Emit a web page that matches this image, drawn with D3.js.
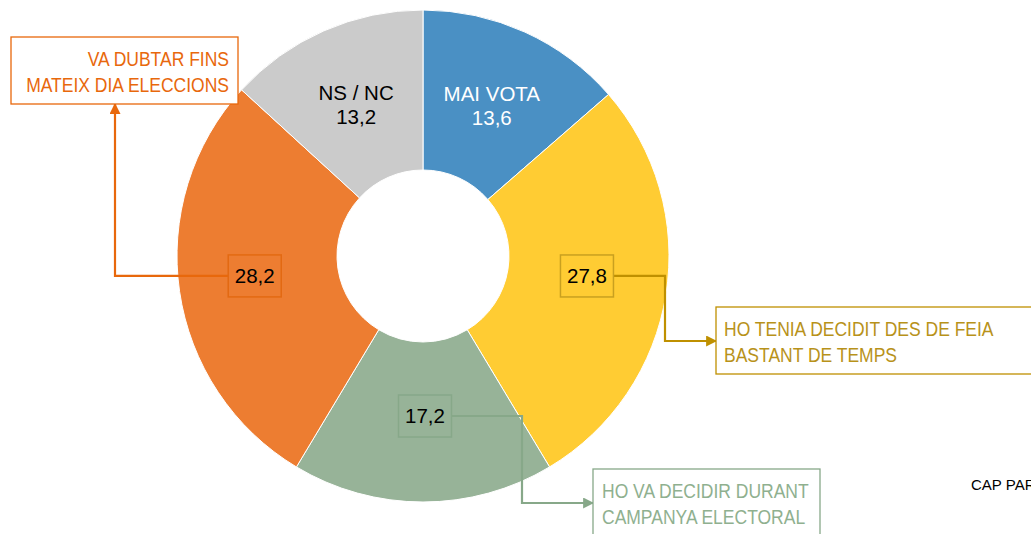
<!DOCTYPE html>
<html><head><meta charset="utf-8">
<script src="https://cdn.jsdelivr.net/npm/d3@7"></script>
<style>body{margin:0;background:#fff}svg{display:block}</style>
</head><body>
<svg id="c" width="1031" height="534"></svg>
<script>
const categories = ["MAI VOTA","HO TENIA DECIDIT DES DE FEIA BASTANT DE TEMPS","HO VA DECIDIR DURANT CAMPANYA ELECTORAL","VA DUBTAR FINS MATEIX DIA ELECCIONS","NS / NC"];
const values = [13.6, 27.8, 17.2, 28.2, 13.2];
const valueLabels = ["13,6","27,8","17,2","28,2","13,2"];
const colors = ["#4A90C4","#FFCC33","#97B398","#ED7D31","#CBCBCB"];
const boxStroke = ["none","#C9A020","#87A889","#E36A12","none"];
const leaderColors = ["none","#BF9000","#87A889","#E8680C","none"];
const calloutLines = [null,["HO TENIA DECIDIT DES DE FEIA","BASTANT DE TEMPS"],["HO VA DECIDIR DURANT","CAMPANYA ELECTORAL"],["VA DUBTAR FINS","MATEIX DIA ELECCIONS"],null];
const calloutText = ["","#B8921A","#8FB08F","#E8680C",""];

const svg = d3.select("#c");
const cx = 423, cy = 256, R = 246, r0 = 86;
const g = svg.append("g").attr("transform",`translate(${cx},${cy})`);
const pie = d3.pie().sort(null).value(d=>d);
const arcs = pie(values);
const arc = d3.arc().innerRadius(r0).outerRadius(R);
g.selectAll("path").data(arcs).join("path")
  .attr("d",arc).attr("fill",(d,i)=>colors[i]).attr("stroke","#fff").attr("stroke-width",1);

const FONT = "'Liberation Sans', Arial, sans-serif";
[0,4].forEach(i=>{
  const [x,y] = arc.centroid(arcs[i]);
  const t = g.append("text").attr("text-anchor","middle").attr("font-family",FONT)
    .attr("font-size",20.5).attr("fill", i===0?"#fff":"#000");
  t.append("tspan").attr("x",x).attr("y",y-4).text(categories[i]);
  t.append("tspan").attr("x",x).attr("y",y+20).text(valueLabels[i]);
});

const defs = svg.append("defs");
[1,2,3].forEach(i=>{
  defs.append("marker").attr("id","ar"+i).attr("viewBox","0 0 10 10").attr("refX",9).attr("refY",5)
    .attr("markerWidth",5).attr("markerHeight",5).attr("orient","auto-start-reverse")
    .attr("markerUnits","strokeWidth")
    .append("path").attr("d","M0,0L10,5L0,10Z").attr("fill",leaderColors[i]);
});

const bw = 53, bh = 42;
const boxOff = {1:[0,-6],2:[2,-6],3:[-4,-4]};
const boxes = {};
[1,2,3].forEach(i=>{
  const [x,y] = arc.centroid(arcs[i]);
  const bx = cx + x + boxOff[i][0], by = cy + y + boxOff[i][1];
  boxes[i] = {x0:bx-bw/2,x1:bx+bw/2,y:by};
});

const lines = {
  1: [[boxes[1].x1, boxes[1].y],[665, boxes[1].y],[665,341],[716,341]],
  2: [[boxes[2].x1, boxes[2].y],[522, boxes[2].y],[522,503],[593,503]],
  3: [[boxes[3].x0, boxes[3].y],[115, boxes[3].y],[115,104]]
};
[1,2,3].forEach(i=>{
  svg.append("path").attr("d",d3.line()(lines[i])).attr("fill","none")
    .attr("stroke",leaderColors[i]).attr("stroke-width",2.2).attr("marker-end",`url(#ar${i})`);
});

[1,2,3].forEach(i=>{
  const b = boxes[i];
  svg.append("rect").attr("x",b.x0).attr("y",b.y-bh/2).attr("width",bw).attr("height",bh)
    .attr("fill",colors[i]).attr("stroke",boxStroke[i]).attr("stroke-width",1.5);
  svg.append("text").attr("x",(b.x0+b.x1)/2).attr("y",b.y+7).attr("text-anchor","middle")
    .attr("font-family",FONT).attr("font-size",20.5).attr("fill","#000").text(valueLabels[i]);
});

const callouts = {
  1:{x:716,y:307,w:330,h:67,anchor:"start",tx:724},
  2:{x:593,y:469,w:227,h:80,anchor:"start",tx:602},
  3:{x:11,y:37,w:227,h:67,anchor:"end",tx:229}
};
[1,2,3].forEach(i=>{
  const c = callouts[i];
  svg.append("rect").attr("x",c.x).attr("y",c.y).attr("width",c.w).attr("height",c.h)
    .attr("fill","#fff").attr("stroke",leaderColors[i]).attr("stroke-width",1.3);
  const t = svg.append("text").attr("text-anchor",c.anchor).attr("fill",calloutText[i])
    .attr("transform",`translate(${c.tx},${c.y+29}) scale(0.875,1)`)
    .attr("font-family",FONT).attr("font-size",20);
  calloutLines[i].forEach((s,k)=>t.append("tspan").attr("x",0).attr("y",k*26).text(s));
});

svg.append("text").attr("x",971).attr("y",490).attr("font-family",FONT).attr("font-size",15)
  .attr("fill","#000").text("CAP PARTIT");
</script>
</body></html>
